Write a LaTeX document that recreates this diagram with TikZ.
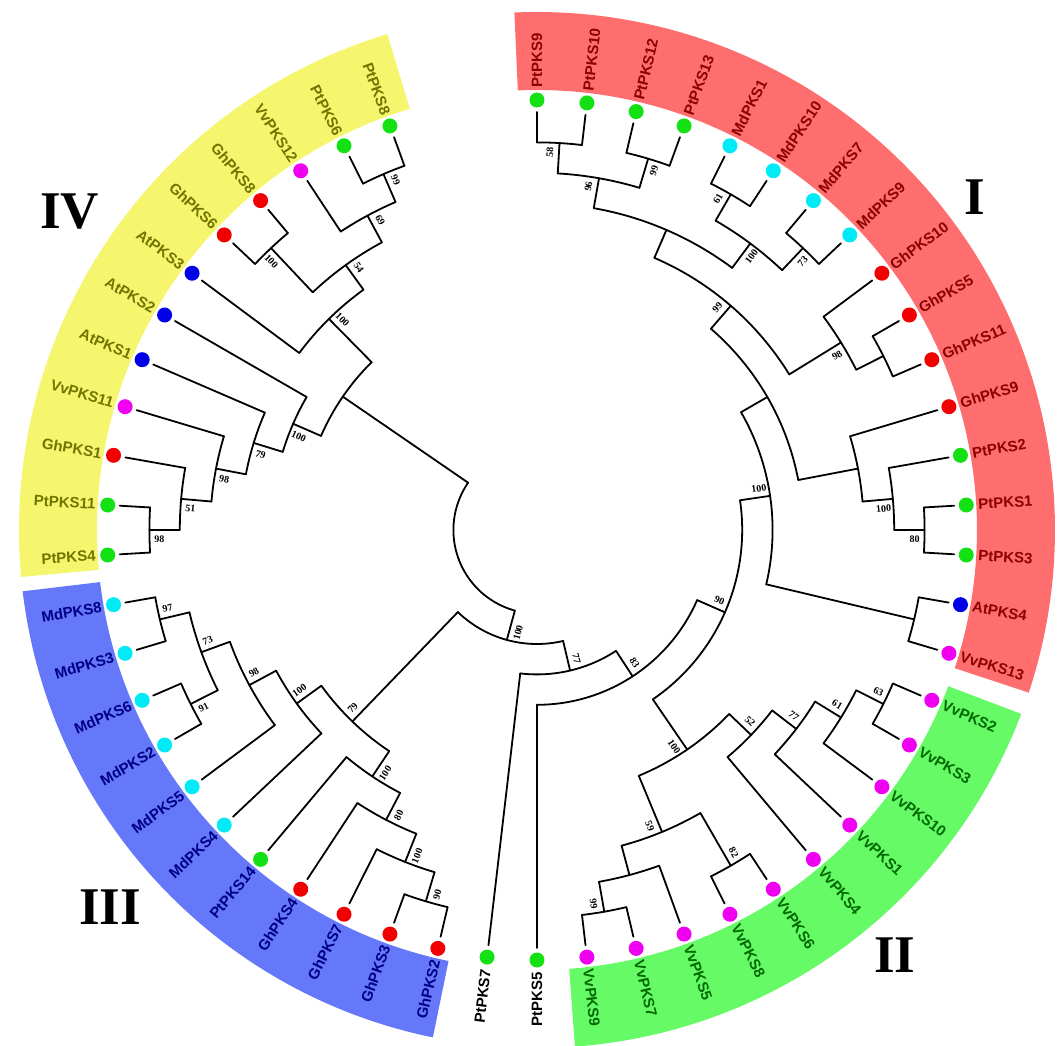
\documentclass[tikz,border=0pt]{standalone}
\usepackage{fontspec}
\setmainfont{Liberation Serif}
\newfontfamily\lsans{Liberation Sans}
\usetikzlibrary{calc}
\definecolor{bandI}{RGB}{255,110,110}
\definecolor{bandII}{RGB}{102,250,102}
\definecolor{bandIII}{RGB}{102,120,250}
\definecolor{bandIV}{RGB}{245,245,110}
\definecolor{tI}{RGB}{140,0,0}
\definecolor{tII}{RGB}{0,105,0}
\definecolor{tIII}{RGB}{0,0,135}
\definecolor{tIV}{RGB}{115,115,0}
\definecolor{dg}{RGB}{20,225,20}
\definecolor{dc}{RGB}{0,235,245}
\definecolor{dr}{RGB}{240,0,0}
\definecolor{db}{RGB}{0,0,230}
\definecolor{dm}{RGB}{240,0,240}
\newcommand\cladeband[3]{\fill[#1] (#2:440) arc[start angle=#2,end angle=#3,radius=440] -- (#3:518) arc[start angle=#3,end angle=#2,radius=518] -- cycle;}
\begin{document}
\begin{tikzpicture}[x=1pt,y=1pt,
  branch/.style={line width=1.8pt,line cap=round,line join=round},
  leafdot/.style={circle,fill=#1,draw=none,inner sep=0pt,minimum size=15pt},
  leaflab/.style={font=\lsans\bfseries\fontsize{15}{15}\selectfont,inner sep=0pt},
  bslab/.style={font=\bfseries\fontsize{10}{10}\selectfont,inner sep=0pt},
  cladelab/.style={font=\bfseries\fontsize{53}{53}\selectfont,inner sep=0pt},
]
\useasboundingbox (-537,-515) rectangle (526,530);
% clade bands
\cladeband{bandI}{92.5}{-18.3}
\cladeband{bandII}{-20.8}{-85.8}
\cladeband{bandIII}{-101.6}{-173.2}
\cladeband{bandIV}{-174.8}{-253.2}
% internal nodes: name/angle/height/parent height/child angle a/child angle b/bootstrap/side
\foreach \nn/\ang/\hh/\ph/\ca/\cb/\bv/\sd in {
A1/86.667/1/2/90/83.333/58/1,
A2/73.333/1/2/76.667/70/99/-1,
A3/80/2/3/86.667/73.333/96/1,
B1/60/1/2/63.333/56.667/61/1,
B2/46.667/1/2/50/43.333/73/-1,
B3/53.333/2/3/60/46.667/100/-1,
C1/66.667/3/4/80/53.333/0/0,
D1/26.667/1/2/30/23.333/0/0,
D2/31.667/2/4/36.667/26.667/98/-1,
E/49.167/4/5/66.667/31.667/99/1,
F1/0/1/2/3.333/-3.333/80/-1,
F2/5/2/3/10/0/100/-1,
G1/10.833/3/5/16.667/5/0/0,
U/30/5/6/49.167/10.833/0/0,
H1/-13.333/1/6/-10/-16.667/0/0,
I1/8.333/6/7/30/-13.333/100/1,
J1/-26.667/1/2/-23.333/-30/63/1,
J2/-31.667/2/3/-26.667/-36.667/61/1,
J3/-37.5/3/4/-31.667/-43.333/77/1,
J4/-43.75/4/5/-37.5/-50/52/1,
L1/-60/1/3/-56.667/-63.333/82/1,
N1/-80/1/2/-76.667/-83.333/99/-1,
N2/-75/2/3/-70/-80/0/0,
M/-67.5/3/5/-60/-75/59/-1,
K/-55.625/5/7/-43.75/-67.5/100/-1,
S/-23.646/7/8/8.333/-55.625/90/1,
R/-56.823/8/9/-23.646/-90/83/1,
Q/-76.745/9/10/-56.823/-96.667/77/1,
T1/-106.667/1/2/-103.333/-110/90/1,
T2/-111.667/2/3/-106.667/-116.667/100/1,
T3/-117.5/3/4/-111.667/-123.333/80/1,
T4/-123.75/4/5/-117.5/-130/100/1,
X1/-166.667/1/2/-163.333/-170/97/-1,
X2/-153.333/1/2/-150/-156.667/91/1,
X3/-160/2/3/-153.333/-166.667/73/-1,
X4/-151.667/3/4/-143.333/-160/98/-1,
X5/-144.167/4/5/-136.667/-151.667/100/-1,
V/-133.958/5/10/-123.75/-144.167/79/-1,
P/-105.352/10/11/-76.745/-133.958/100/1,
Y1/-180/1/2/-176.667/-183.333/98/1,
Y2/-185/2/3/-180/-190/51/1,
Y3/-190.833/3/4/-185/-196.667/98/1,
Y4/-197.083/4/5/-190.833/-203.333/79/1,
Y5/-203.542/5/6/-197.083/-210/100/1,
Z3/-226.667/1/3/-223.333/-230/100/1,
Z1/-246.667/1/2/-243.333/-250/99/-1,
Z2/-241.667/2/3/-236.667/-246.667/69/-1,
Z4/-234.167/3/4/-226.667/-241.667/54/-1,
Z5/-225.417/4/6/-216.667/-234.167/100/-1,
Y6/-214.479/6/11/-203.542/-225.417/0/0,
root/-159.916/11/11/-105.352/-214.479/0/0}{
  \pgfmathsetmacro\rr{418-30.4*\hh}
  \pgfmathsetmacro\rp{418-30.4*\ph}
  \coordinate (\nn) at (\ang:\rr);
  \coordinate (\nn-b) at (\ang:\rp);
  \draw[branch] (\nn-b) -- (\nn);
  \draw[branch] (\ca:\rr) arc[start angle=\ca,end angle=\cb,radius=\rr];
  \ifnum\sd=0\relax\else
    \pgfmathsetmacro\rot{\ang>-90 ? \ang : \ang+180}
    \node[bslab,rotate=\rot] (bs-\nn) at ($(\ang:{\rr-10})+({\ang+90*(\sd)}:9)$) {\bv};
  \fi
}
% leaves: index/name/parent height/dot colour/text colour
\foreach \ii/\nm/\ph/\dcol/\tcol in {
0/PtPKS9/1/dg/tI, 1/PtPKS10/1/dg/tI, 2/PtPKS12/1/dg/tI, 3/PtPKS13/1/dg/tI,
4/MdPKS1/1/dc/tI, 5/MdPKS10/1/dc/tI, 6/MdPKS7/1/dc/tI, 7/MdPKS9/1/dc/tI,
8/GhPKS10/2/dr/tI, 9/GhPKS5/1/dr/tI, 10/GhPKS11/1/dr/tI, 11/GhPKS9/3/dr/tI,
12/PtPKS2/2/dg/tI, 13/PtPKS1/1/dg/tI, 14/PtPKS3/1/dg/tI, 15/AtPKS4/1/db/tI,
16/VvPKS13/1/dm/tI,
17/VvPKS2/1/dm/tII, 18/VvPKS3/1/dm/tII, 19/VvPKS10/2/dm/tII, 20/VvPKS1/3/dm/tII,
21/VvPKS4/4/dm/tII, 22/VvPKS6/1/dm/tII, 23/VvPKS8/1/dm/tII, 24/VvPKS5/2/dm/tII,
25/VvPKS7/1/dm/tII, 26/VvPKS9/1/dm/tII,
27/PtPKS5/8/dg/black, 28/PtPKS7/9/dg/black,
29/GhPKS2/1/dr/tIII, 30/GhPKS3/1/dr/tIII, 31/GhPKS7/2/dr/tIII, 32/GhPKS4/3/dr/tIII,
33/PtPKS14/4/dg/tIII, 34/MdPKS4/4/dc/tIII, 35/MdPKS5/3/dc/tIII, 36/MdPKS2/1/dc/tIII,
37/MdPKS6/1/dc/tIII, 38/MdPKS3/1/dc/tIII, 39/MdPKS8/1/dc/tIII,
40/PtPKS4/1/dg/tIV, 41/PtPKS11/1/dg/tIV, 42/GhPKS1/2/dr/tIV, 43/VvPKS11/3/dm/tIV,
44/AtPKS1/4/db/tIV, 45/AtPKS2/5/db/tIV, 46/AtPKS3/4/db/tIV, 47/GhPKS6/1/dr/tIV,
48/GhPKS8/1/dr/tIV, 49/VvPKS12/2/dm/tIV, 50/PtPKS6/1/dg/tIV, 51/PtPKS8/1/dg/tIV}{
  \pgfmathsetmacro\ang{90-20/3*\ii}
  \pgfmathsetmacro\rp{418-30.4*\ph}
  \coordinate (tip\ii) at (\ang:418);
  \coordinate (base\ii) at (\ang:\rp);
  \draw[branch] (base\ii) -- (tip\ii);
  \node[leafdot=\dcol] (dot\ii) at (\ang:430) {};
  \ifnum\ii<27
    \node[leaflab,text=\tcol,rotate=\ang,anchor=west] (lab\ii) at (\ang:442) {\nm};
  \else
    \node[leaflab,text=\tcol,rotate=\ang+180,anchor=east] (lab\ii) at (\ang:442) {\nm};
  \fi
}
% clade numerals
\node[cladelab] (cI) at (438,332.5) {I};
\node[cladelab] (cII) at (358,-425) {II};
\node[cladelab] (cIII) at (-427,-377) {III};
\node[cladelab] (cIV) at (-467.5,318.5) {IV};
\end{tikzpicture}
\end{document}
